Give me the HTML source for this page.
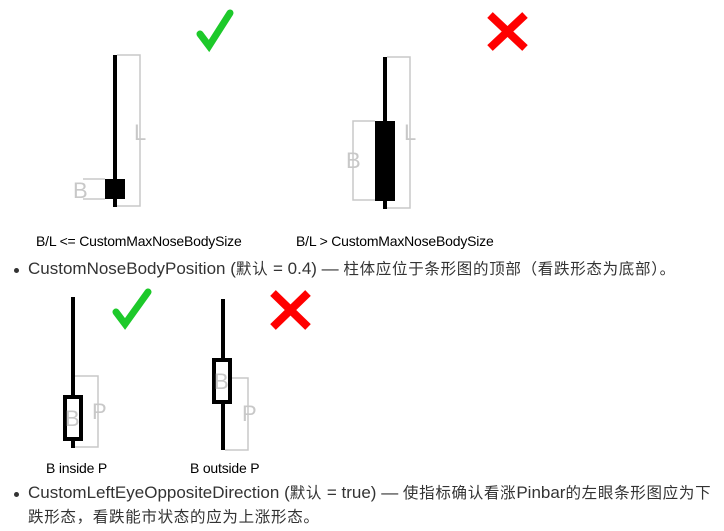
<!DOCTYPE html>
<html><head><meta charset="utf-8"><style>
html,body{margin:0;padding:0;background:#fff;width:724px;height:531px;overflow:hidden;position:relative}
.t{position:absolute;font-family:"Liberation Sans","Noto Sans CJK SC",sans-serif;color:#333;font-size:17px;white-space:nowrap;line-height:24px}
.t .k{font-size:15.5px;letter-spacing:0.7px}
.c{position:absolute;font-family:"Liberation Sans",sans-serif;font-size:14px;color:#000;white-space:nowrap;letter-spacing:-0.2px}
.dot{position:absolute;width:5px;height:5px;border-radius:50%;background:#333}
</style></head><body>
<svg width="724" height="531" style="position:absolute;left:0;top:0" font-family="Liberation Sans, sans-serif">
<g fill="none" stroke="#c8c8c8" stroke-width="1.5">
<polyline points="117,55 140,55 140,206 117,206"/>
<line x1="83" y1="179" x2="105" y2="179"/><line x1="83" y1="199" x2="105" y2="199"/>
<polyline points="387,57 410,57 410,208 387,208"/>
<polyline points="375,121 353,121 353,200 375,200"/>
<polyline points="75,376 98,376 98,447 75,447"/>
<polyline points="232,378 248,378 248,450 225,450"/>
</g>
<g fill="#c8c8c8" font-size="22">
<text x="134" y="140">L</text><text x="73" y="198">B</text>
<text x="404" y="140">L</text><text x="346" y="168">B</text>
<text x="92" y="419">P</text>
<text x="242" y="421">P</text>
</g>
<g fill="#000">
<rect x="113" y="55" width="4" height="152"/><rect x="105" y="179" width="20" height="20"/>
<rect x="383" y="57" width="4" height="152"/><rect x="375" y="121" width="20" height="80"/>
<rect x="71" y="297" width="4" height="100"/><rect x="71" y="439" width="4" height="9"/>
<rect x="221" y="299" width="4" height="61"/><rect x="221" y="402" width="4" height="48"/>
</g>
<rect x="65" y="397" width="16" height="42" fill="#fff" stroke="#000" stroke-width="4"/>
<rect x="214" y="360" width="16" height="42" fill="#fff" stroke="#000" stroke-width="4"/>
<g fill="#c8c8c8" font-size="22"><text x="65" y="426">B</text><text x="214" y="389">B</text></g>
<g stroke="#1dc92a" stroke-width="7" stroke-linecap="round" fill="none">
<path d="M200,34 L209,46 L230,13"/>
<path d="M116,312 L125,324 L148,292"/>
</g>
<g stroke="#ff0000" stroke-width="8">
<path d="M490,15 L525,48 M525,15 L490,48"/>
<path d="M273,293 L308,327 M308,293 L273,327"/>
</g>
</svg>
<div class="c" style="left:36px;top:233px">B/L &lt;= CustomMaxNoseBodySize</div>
<div class="c" style="left:296px;top:233px">B/L &gt; CustomMaxNoseBodySize</div>
<div class="c" style="left:46px;top:460px">B inside P</div>
<div class="c" style="left:190px;top:460px">B outside P</div>
<div class="dot" style="left:14px;top:268px"></div>
<div class="t" style="left:28px;top:257px">CustomNoseBodyPosition (<span class="k">默认</span> = 0.4) — <span class="k">柱体应位于条形图的顶部（看跌形态为底部）。</span></div>
<div class="dot" style="left:14px;top:492px"></div>
<div class="t" style="left:28px;top:481px">CustomLeftEyeOppositeDirection (<span class="k">默认</span> = true) — <span class="k">使指标确认看涨</span>Pinbar<span class="k">的左眼条形图应为下</span></div>
<div class="t" style="left:28px;top:505px"><span class="k">跌形态，看跌能市状态的应为上涨形态。</span></div>
</body></html>
